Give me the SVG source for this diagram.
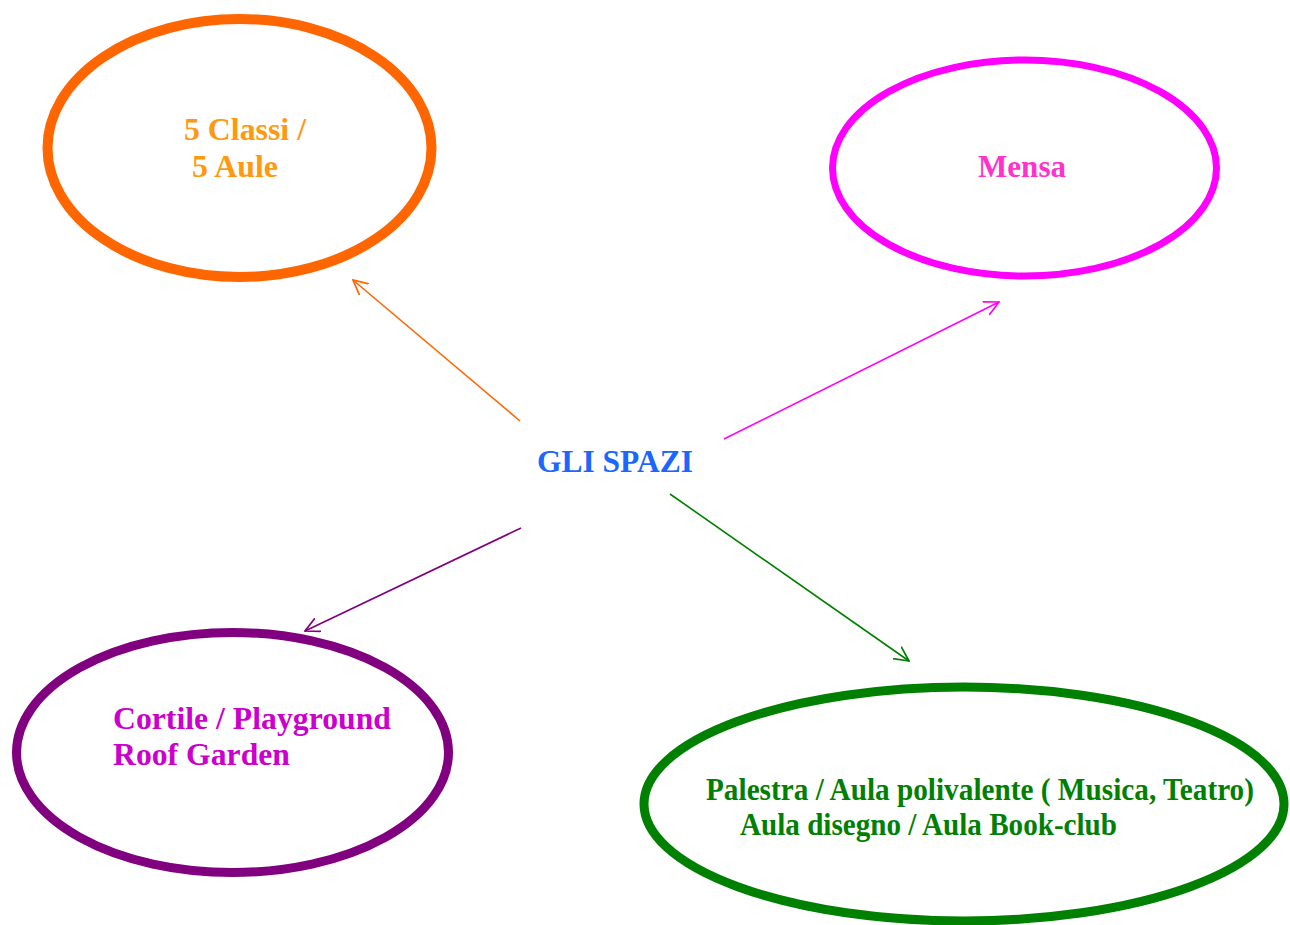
<svg xmlns="http://www.w3.org/2000/svg" width="1290" height="925" viewBox="0 0 1290 925">
<defs>
<style>
text{font-family:"Liberation Serif","Times New Roman",serif;font-weight:bold;font-size:31px}
.n{fill:none}
.c{fill:none;stroke-width:1.6}
</style>
<marker id="ao" viewBox="0 0 12 12" refX="11" refY="6" markerWidth="16" markerHeight="16" markerUnits="userSpaceOnUse" orient="auto"><path d="M0,0.5 L11,6 L0,11.5" fill="none" stroke="#FF6600" stroke-width="1.3"/></marker>
<marker id="am" viewBox="0 0 12 12" refX="11" refY="6" markerWidth="16" markerHeight="16" markerUnits="userSpaceOnUse" orient="auto"><path d="M0,0.5 L11,6 L0,11.5" fill="none" stroke="#FF00FF" stroke-width="1.3"/></marker>
<marker id="ap" viewBox="0 0 12 12" refX="11" refY="6" markerWidth="16" markerHeight="16" markerUnits="userSpaceOnUse" orient="auto"><path d="M0,0.5 L11,6 L0,11.5" fill="none" stroke="#800080" stroke-width="1.3"/></marker>
<marker id="ag" viewBox="0 0 12 12" refX="11" refY="6" markerWidth="16" markerHeight="16" markerUnits="userSpaceOnUse" orient="auto"><path d="M0,0.5 L11,6 L0,11.5" fill="none" stroke="#008000" stroke-width="1.3"/></marker>
</defs>
<rect width="1290" height="925" fill="#FFFFFF"/>
<g id="connectors">
<line class="c" x1="520" y1="421" x2="353" y2="280" stroke="#FF6600" marker-end="url(#ao)"/>
<line class="c" x1="724" y1="439" x2="999" y2="302" stroke="#FF00FF" marker-end="url(#am)"/>
<line class="c" x1="521" y1="528" x2="305" y2="631" stroke="#800080" marker-end="url(#ap)"/>
<line class="c" x1="670" y1="494" x2="909" y2="661" stroke="#008000" marker-end="url(#ag)"/>
</g>
<g id="center">
<text x="537" y="472" fill="#1A66FF" textLength="156" lengthAdjust="spacingAndGlyphs">GLI SPAZI</text>
</g>
<g id="classi">
<ellipse class="n" cx="239.5" cy="148" rx="192" ry="129" stroke="#FF6600" stroke-width="10"/>
<text x="184" y="140" fill="#FF9911" textLength="122" lengthAdjust="spacingAndGlyphs">5 Classi /</text>
<text x="192" y="177" fill="#FF9911" textLength="86" lengthAdjust="spacingAndGlyphs">5 Aule</text>
</g>
<g id="mensa">
<ellipse class="n" cx="1024.5" cy="168" rx="192" ry="108" stroke="#FF00FF" stroke-width="7"/>
<text x="978" y="177" fill="#FF33CC" textLength="88" lengthAdjust="spacingAndGlyphs">Mensa</text>
</g>
<g id="cortile">
<ellipse class="n" cx="232.5" cy="752.5" rx="216" ry="120" stroke="#800080" stroke-width="9"/>
<text x="113" y="729" fill="#CC00CC" textLength="278" lengthAdjust="spacingAndGlyphs">Cortile / Playground</text>
<text x="113" y="765" fill="#CC00CC" textLength="177" lengthAdjust="spacingAndGlyphs">Roof Garden</text>
</g>
<g id="palestra">
<ellipse class="n" cx="964" cy="804" rx="320" ry="117" stroke="#008000" stroke-width="9"/>
<text x="706" y="800" fill="#008000" textLength="548" lengthAdjust="spacingAndGlyphs">Palestra / Aula polivalente ( Musica, Teatro)</text>
<text x="740" y="835" fill="#008000" textLength="377" lengthAdjust="spacingAndGlyphs">Aula disegno / Aula Book-club</text>
</g>
</svg>
